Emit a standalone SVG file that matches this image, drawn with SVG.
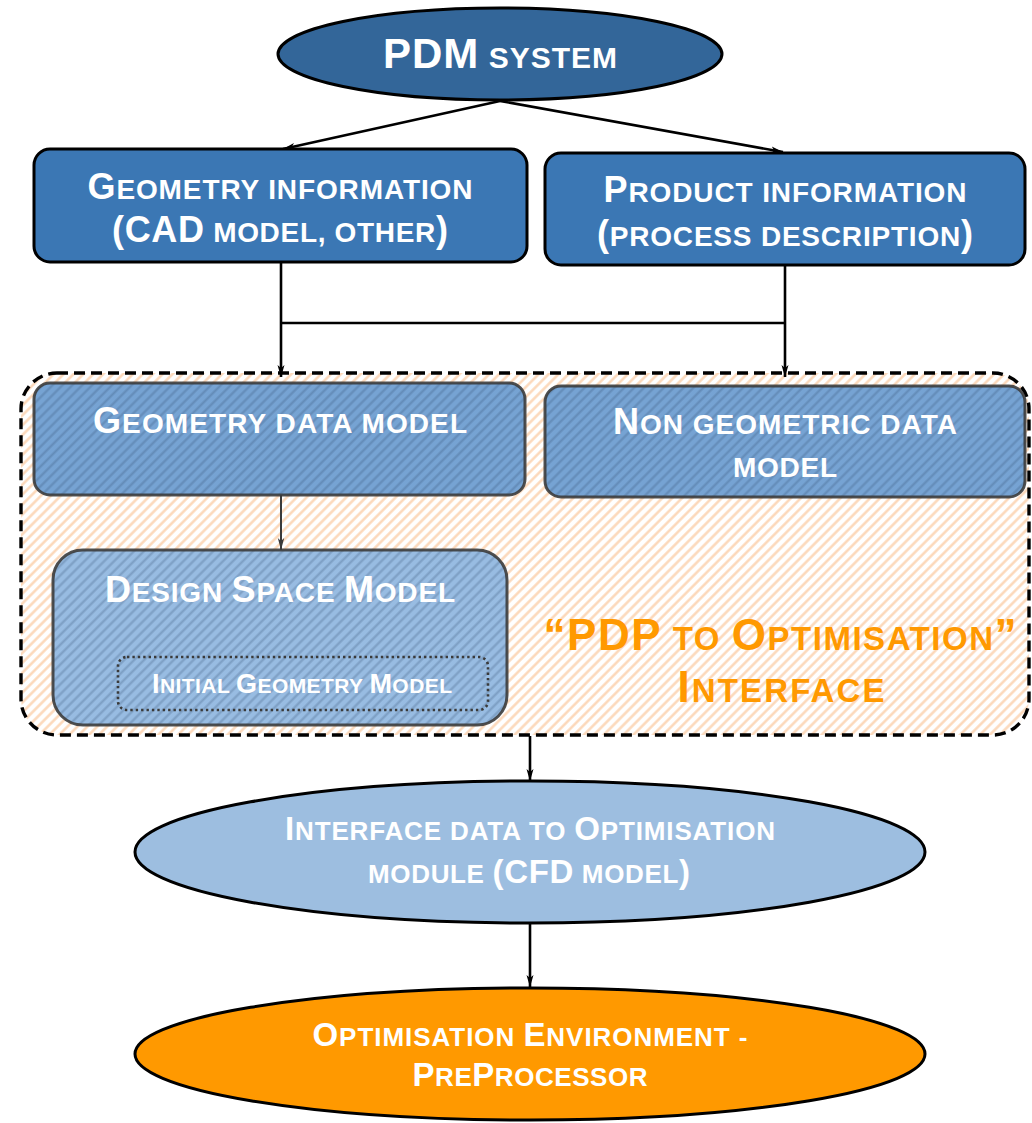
<svg xmlns="http://www.w3.org/2000/svg" width="1032" height="1123" viewBox="0 0 1032 1123">
  <defs>
    <!-- light orange hatch for the interface container -->
    <pattern id="hatchOrange" patternUnits="userSpaceOnUse" width="7" height="7" patternTransform="rotate(45)">
      <rect width="7" height="7" fill="#ffffff"/>
      <line x1="1.5" y1="0" x2="1.5" y2="7" stroke="#fcd6b6" stroke-width="2.4"/>
    </pattern>
    <!-- dark stripes laid over the data-model boxes -->
    <pattern id="hatchDark" patternUnits="userSpaceOnUse" width="7" height="7" patternTransform="rotate(45)">
      <line x1="1.5" y1="0" x2="1.5" y2="7" stroke="#2e4a6a" stroke-opacity="0.26" stroke-width="2.2"/>
    </pattern>
    <marker id="arrow" viewBox="0 0 12 8" refX="12" refY="4" markerWidth="12" markerHeight="8" markerUnits="userSpaceOnUse" orient="auto">
      <path d="M0,0.5 L12,4 L0,7.5 L3,4 Z" fill="#000000"/>
    </marker>
    <marker id="arrowGrey" viewBox="0 0 12 8" refX="12" refY="4" markerWidth="12" markerHeight="8" markerUnits="userSpaceOnUse" orient="auto">
      <path d="M0,0.8 L12,4 L0,7.2 L3,4 Z" fill="#3a3a3a"/>
    </marker>
  </defs>
  <style>
    text { font-family: "Liberation Sans", Arial, sans-serif; font-weight: bold; text-anchor: middle; }
    .w { fill: #ffffff; }
    .o { fill: #ff9900; }
    .box { stroke: #000000; stroke-width: 3; }
    .dm { stroke: #3c3c3c; stroke-opacity: 0.9; stroke-width: 3; }
    .conn { fill: none; stroke: #000000; stroke-width: 2.6; }
  </style>

  <!-- interface container (drawn first, behind its contents) -->
  <g id="interface-container">
    <rect x="21" y="373" width="1008" height="362" rx="36" fill="url(#hatchOrange)" stroke="#000000" stroke-width="3.4" stroke-dasharray="11 6"/>
    <text class="o" y="650" x="780" textLength="473"><tspan font-size="44">“PDP</tspan><tspan font-size="33"> TO </tspan><tspan font-size="44">O</tspan><tspan font-size="33">PTIMISATION</tspan><tspan font-size="44">”</tspan></text>
    <text class="o" y="702" x="781" textLength="207"><tspan font-size="44">I</tspan><tspan font-size="33">NTERFACE</tspan></text>
  </g>

  <!-- connectors -->
  <g id="connectors">
    <line class="conn" x1="500" y1="101" x2="283" y2="149" marker-end="url(#arrow)"/>
    <line class="conn" x1="500" y1="101" x2="783" y2="152" marker-end="url(#arrow)"/>
    <path class="conn" d="M281,262 V377"  marker-end="url(#arrow)"/>
    <path class="conn" d="M785,265 V377" marker-end="url(#arrow)"/>
    <path class="conn" d="M281,323 H785"/>
    <path fill="none" stroke="#3a3a3a" stroke-width="2" d="M281,495 V550" marker-end="url(#arrowGrey)"/>
    <path class="conn" d="M530,736 V781" marker-end="url(#arrow)"/>
    <path class="conn" d="M530,923 V987" marker-end="url(#arrow)"/>
  </g>

  <g id="pdm-system">
    <ellipse cx="500" cy="54" rx="222" ry="46" fill="#336699" class="box"/>
    <text class="w" x="500" y="68" textLength="234"><tspan font-size="42">PDM</tspan><tspan font-size="30"> SYSTEM</tspan></text>
  </g>

  <g id="geometry-information">
    <rect x="34" y="149" width="493" height="113" rx="16" fill="#3b77b4" class="box"/>
    <text class="w" x="280" y="199" textLength="385"><tspan font-size="36">G</tspan><tspan font-size="28">EOMETRY INFORMATION</tspan></text>
    <text class="w" x="280" y="242" textLength="336"><tspan font-size="36">(CAD</tspan><tspan font-size="28"> MODEL, OTHER</tspan><tspan font-size="36">)</tspan></text>
  </g>

  <g id="product-information">
    <rect x="545" y="153" width="480" height="112" rx="16" fill="#3b77b4" class="box"/>
    <text class="w" x="785" y="202" textLength="363"><tspan font-size="36">P</tspan><tspan font-size="28">RODUCT INFORMATION</tspan></text>
    <text class="w" x="785" y="246" textLength="376"><tspan font-size="36">(</tspan><tspan font-size="28">PROCESS DESCRIPTION</tspan><tspan font-size="36">)</tspan></text>
  </g>

  <g id="geometry-data-model">
    <rect x="34" y="383" width="491" height="112" rx="16" fill="#76a3d3"/>
    <rect x="34" y="383" width="491" height="112" rx="16" fill="url(#hatchDark)" class="dm"/>
    <text class="w" x="280" y="433" textLength="374"><tspan font-size="36">G</tspan><tspan font-size="28">EOMETRY DATA MODEL</tspan></text>
  </g>

  <g id="non-geometric-data-model">
    <rect x="545" y="386" width="480" height="111" rx="16" fill="#76a3d3"/>
    <rect x="545" y="386" width="480" height="111" rx="16" fill="url(#hatchDark)" class="dm"/>
    <text class="w" x="785" y="434" textLength="344"><tspan font-size="36">N</tspan><tspan font-size="28">ON GEOMETRIC DATA</tspan></text>
    <text class="w" x="785" y="477" textLength="104" font-size="28">MODEL</text>
  </g>

  <g id="design-space-model">
    <rect x="53" y="550" width="454" height="175" rx="30" fill="#98bce2"/>
    <rect x="53" y="550" width="454" height="175" rx="30" fill="url(#hatchDark)" class="dm"/>
    <text class="w" x="280" y="602" textLength="350"><tspan font-size="36">D</tspan><tspan font-size="28">ESIGN </tspan><tspan font-size="36">S</tspan><tspan font-size="28">PACE </tspan><tspan font-size="36">M</tspan><tspan font-size="28">ODEL</tspan></text>
    <g id="initial-geometry-model">
      <rect x="118" y="657" width="370" height="53" rx="9" fill="none" stroke="#3a3a3a" stroke-width="2.6" stroke-dasharray="2.4 3"/>
      <text class="w" x="302" y="693" textLength="300"><tspan font-size="27">I</tspan><tspan font-size="21">NITIAL </tspan><tspan font-size="27">G</tspan><tspan font-size="21">EOMETRY </tspan><tspan font-size="27">M</tspan><tspan font-size="21">ODEL</tspan></text>
    </g>
  </g>

  <g id="interface-data">
    <ellipse cx="530" cy="852" rx="395" ry="71" fill="#9dbee0" class="box"/>
    <text class="w" x="530" y="840" textLength="490"><tspan font-size="33">I</tspan><tspan font-size="26">NTERFACE DATA TO </tspan><tspan font-size="33">O</tspan><tspan font-size="26">PTIMISATION</tspan></text>
    <text class="w" x="529" y="883" textLength="322"><tspan font-size="26">MODULE </tspan><tspan font-size="33">(CFD</tspan><tspan font-size="26"> MODEL</tspan><tspan font-size="33">)</tspan></text>
  </g>

  <g id="optimisation-environment">
    <ellipse cx="530" cy="1054" rx="395" ry="66" fill="#ff9900" class="box"/>
    <text class="w" x="530" y="1046" textLength="435"><tspan font-size="33">O</tspan><tspan font-size="26">PTIMISATION </tspan><tspan font-size="33">E</tspan><tspan font-size="26">NVIRONMENT -</tspan></text>
    <text class="w" x="530" y="1086" textLength="235"><tspan font-size="33">P</tspan><tspan font-size="26">RE</tspan><tspan font-size="33">P</tspan><tspan font-size="26">ROCESSOR</tspan></text>
  </g>
</svg>
